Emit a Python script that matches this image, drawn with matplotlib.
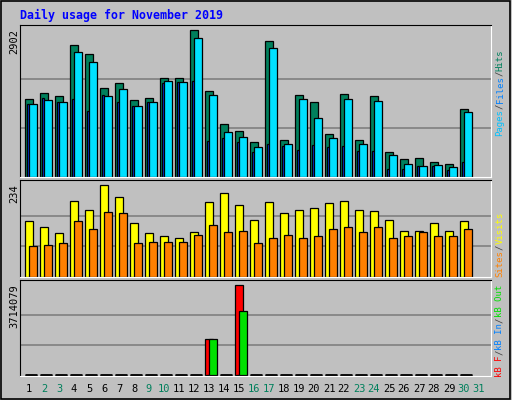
import matplotlib

matplotlib.use("Agg")
import matplotlib.pyplot as plt
import numpy as np

BG = "#C0C0C0"
MONO = "DejaVu Sans Mono"

days = np.arange(1, 32)
weekend = [2, 3, 9, 10, 16, 17, 23, 24, 30, 31]

# daily values (day 31 has no data)
hits = [1543, 1661, 1602, 2607, 2429, 1760, 1858, 1523, 1563, 1957, 1957, 2902, 1701, 1051,
        913, 696, 2685, 735, 1622, 1484, 854, 1641, 735, 1602, 499, 361, 381, 302, 263, 1346, 0]
files = [1444, 1523, 1484, 2469, 2272, 1602, 1740, 1405, 1484, 1898, 1878, 2745, 1622, 893,
         794, 598, 2548, 657, 1543, 1169, 775, 1543, 657, 1504, 440, 263, 223, 243, 204, 1287, 0]
pages = [1444, 1563, 1484, 1543, 1307, 1622, 1484, 1405, 1484, 1858, 1878, 1898, 716, 775,
         696, 499, 657, 617, 538, 637, 598, 617, 519, 519, 164, 164, 223, 223, 144, 302, 0]
visits = [142, 127, 112, 193, 170, 234, 203, 137, 112, 104, 99, 114, 191, 214, 183, 145,
          191, 163, 170, 175, 188, 193, 170, 168, 145, 117, 117, 137, 117, 142, 0]
sites = [79, 81, 86, 142, 122, 165, 163, 86, 89, 89, 89, 107, 132, 115, 117, 86, 99, 107,
         99, 104, 122, 127, 115, 127, 99, 104, 115, 104, 104, 122, 0]
kb_f = [0] * 12 + [1483000, 0, 3714079] + [0] * 16
kb_in = [0] * 31
kb_out = [0] * 12 + [1483000, 0, 2653000] + [0] * 16

W, H = 512, 400
fig = plt.figure(figsize=(W / 100, H / 100), dpi=100, facecolor=BG)


def px_axes(x0, y0, x1, y1):
    ax = fig.add_axes([x0 / W, 1 - y1 / H, (x1 - x0) / W, (y1 - y0) / H])
    ax.set_facecolor(BG)
    ax.set_xlim(0.147, 31.55)
    ax.set_xticks([])
    ax.set_yticks([])
    for s in ("left", "top"):
        ax.spines[s].set_color("black")
    for s in ("right", "bottom"):
        ax.spines[s].set_color("white")
    return ax


def grid(ax, top):
    for f in (1 / 3, 2 / 3):
        ax.axhline(top * f, color="#808080", lw=1.2, zorder=0)


bw = 0.49
kw = dict(align="edge", edgecolor="black", linewidth=0.9)
n = 30

ax1 = px_axes(20, 25, 491, 177)
ax1.set_ylim(0, 2902 * 152 / 147.3)
grid(ax1, 2902)
ax1.bar(days[:n] - 0.5, hits[:n], bw, color="#00805C", **kw)
ax1.bar(days[:n] - 0.367, pages[:n], 0.133, color="#0040FF", **kw)
ax1.bar(days[:n] - 0.233, files[:n], bw, color="#00E0FF", **kw)

ax2 = px_axes(20, 180, 491, 277)
ax2.set_ylim(0, 234 * 97 / 92)
grid(ax2, 234)
ax2.bar(days[:n] - 0.5, visits[:n], bw, color="#FFFF00", **kw)
ax2.bar(days[:n] - 0.233, sites[:n], bw, color="#FF8000", **kw)

ax3 = px_axes(20, 280, 491, 376)
ax3.set_ylim(-3714079 * 0.01, 3714079 * 96 / 91)
grid(ax3, 3714079)
ax3.bar(days[:n] - 0.5, kb_f[:n], bw, color="#FF0000", **kw)
ax3.bar(days[:n] - 0.367, kb_in[:n], 0.133, color="#0080FF", **kw)
ax3.bar(days[:n] - 0.233, kb_out[:n], bw, color="#00E000", **kw)
zero = [d for d, f, o in zip(days[:n], kb_f[:n], kb_out[:n]) if f == 0 and o == 0]
zero = np.array(zero)
ax3.hlines(np.zeros(len(zero)), zero - 0.5, zero + 0.257, color="black", lw=2)

# day labels
for d in days:
    fig.text((25.3 + 15 * (d - 1) + 3.7) / W, 1 - 389 / H, str(d), ha="center", va="center",
             family=MONO, fontsize=7.5, color="#00805C" if d in weekend else "black")

fig.text(20 / W, 1 - 15 / H, "Daily usage for November 2019", family=MONO, fontsize=8.4,
         fontweight="bold", color="#0000FF", ha="left", va="center")

for y, lab in ((29, "2902"), (184, "234"), (284, "3714079")):
    fig.text(14 / W, 1 - y / H, lab, rotation=90, family=MONO, fontsize=7.5,
             ha="center", va="top")

FS = 6.5
CW = FS * 0.602 * 100 / 72


def side_label(y_bottom, parts):
    y = y_bottom
    for txt, col in parts:
        fig.text(500 / W, 1 - y / H, txt, rotation=90, family=MONO, fontsize=FS,
                 color=col, ha="center", va="bottom")
        y -= CW * len(txt)


side_label(136, [("Pages", "#00C0FF"), ("/", "#404040"), ("Files", "#0080FF"),
                 ("/", "#404040"), ("Hits", "#00805C")])
side_label(277, [("Sites", "#FF8000"), ("/", "#404040"), ("Visits", "#FFFF00")])
side_label(377, [("kB F", "#FF0000"), ("/", "#404040"), ("kB In", "#0080FF"),
                 ("/", "#404040"), ("kB Out", "#00E000")])

# outer frame
fig.patches.append(plt.Rectangle((0.002, 0.003), 0.995, 0.994, transform=fig.transFigure,
                                 fill=False, edgecolor="black", lw=1.2))

fig.savefig("out.png", dpi=100, facecolor=BG)
